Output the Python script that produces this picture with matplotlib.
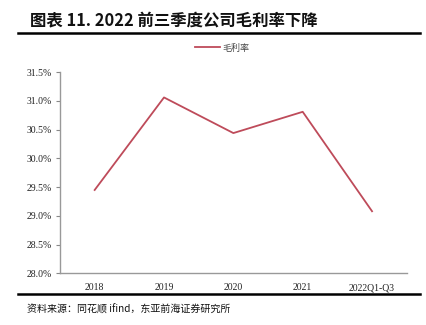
import matplotlib.pyplot as plt
from matplotlib.ticker import FuncFormatter, MultipleLocator
from matplotlib.lines import Line2D

# Chart data
years = ["2018", "2019", "2020", "2021", "2022Q1-Q3"]
gross_margin = [29.45, 31.06, 30.44, 30.81, 29.08]

title_text = "图表 11. 2022 前三季度公司毛利率下降"
legend_label = "毛利率"
source_text = "资料来源：同花顺 ifind，东亚前海证券研究所"

line_color = "#BE4B5A"
cjk = ["Noto Sans CJK SC", "DejaVu Sans"]
serif = ["Liberation Serif", "DejaVu Serif"]


def main():
    fig = plt.figure(figsize=(4.27, 3.25), dpi=100)
    ax = fig.add_axes([0.1405, 0.159, 0.812, 0.619])

    # Line series
    x = list(range(len(years)))
    ax.plot(x, gross_margin, color=line_color, linewidth=1.3)

    ax.set_xlim(-0.5, len(years) - 0.5)
    ax.set_ylim(28.0, 31.5)
    ax.yaxis.set_major_locator(MultipleLocator(0.5))
    ax.yaxis.set_major_formatter(FuncFormatter(lambda v, p: f"{v:.1f}%"))
    ax.set_xticks(x)
    ax.set_xticklabels(years)

    for lab in ax.get_xticklabels() + ax.get_yticklabels():
        lab.set_family(serif)
        lab.set_fontsize(7)
        lab.set_color("#222222")

    ax.tick_params(axis="x", length=0, pad=7)
    ax.tick_params(axis="y", length=3, width=0.8, color="#888888", pad=3)
    for side in ["top", "right"]:
        ax.spines[side].set_visible(False)
    for side in ["left", "bottom"]:
        ax.spines[side].set_color("#999999")
        ax.spines[side].set_linewidth(1.0)

    # Legend above the plot
    handle = Line2D([], [], color=line_color, linewidth=1.3)
    leg = fig.legend([handle], [legend_label], loc="center", bbox_to_anchor=(0.52, 0.852),
                     frameon=False, prop={"family": cjk, "size": 6.5},
                     handlelength=2.8, handletextpad=0.3)
    for t in leg.get_texts():
        t.set_color("#444444")

    # Title and rules
    fig.text(0.07, 0.938, title_text, fontsize=11.8, fontweight="bold",
             family=cjk, va="center", ha="left", color="#111111")
    fig.add_artist(Line2D([0.042, 0.984], [0.897, 0.897], color="black",
                          linewidth=1.8, transform=fig.transFigure))
    fig.add_artist(Line2D([0.042, 0.984], [0.095, 0.095], color="black",
                          linewidth=1.8, transform=fig.transFigure))
    fig.text(0.063, 0.046, source_text, fontsize=7.2, family=cjk,
             va="center", ha="left", color="#111111")

    fig.savefig("out.png", dpi=100)


if __name__ == "__main__":
    main()
